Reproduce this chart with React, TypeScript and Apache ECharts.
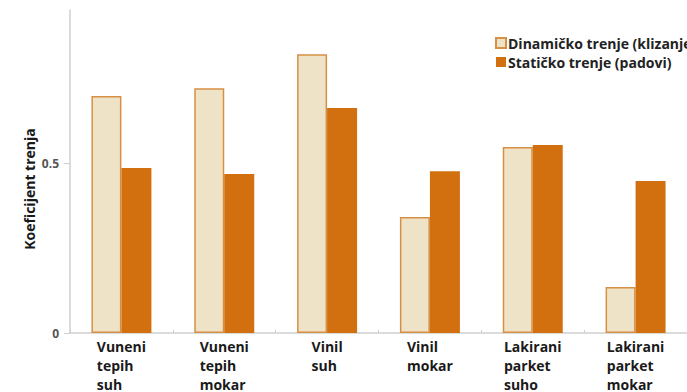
import React, { useEffect, useRef } from "react";
import * as echarts from "echarts";

const categories = [
  "Vuneni\ntepih\nsuh",
  "Vuneni\ntepih\nmokar",
  "Vinil\nsuh",
  "Vinil\nmokar",
  "Lakirani\nparket\nsuho",
  "Lakirani\nparket\nmokar",
];
const dynamicValues = [0.697, 0.72, 0.82, 0.341, 0.547, 0.135];
const staticValues = [0.485, 0.468, 0.662, 0.476, 0.553, 0.447];
const yTicks = [0, 0.5];
const seriesNames = ["Dinamičko trenje (klizanje)", "Statičko trenje (padovi)"];
const yAxisTitle = "Koeficijent trenja";

const FONT = "'Open Sans', 'Noto Sans', sans-serif";

export default function App() {
  const ref = useRef<HTMLDivElement>(null);
  useEffect(() => {
    if (!ref.current) return;
    const chart = echarts.init(ref.current, undefined, { renderer: "svg" });
    chart.setOption({
      animation: false,
      backgroundColor: "#ffffff",
      grid: { left: 70, right: -13, top: 10, bottom: 59, containLabel: false },
      legend: {
        orient: "vertical",
        left: 490,
        top: 30,
        itemWidth: 10,
        itemHeight: 10,
        itemGap: 3,
        icon: "rect",
        textStyle: {
          fontFamily: FONT,
          fontWeight: "bold",
          fontSize: 14,
          lineHeight: 16,
          color: "#222",
          padding: [0, 0, 0, -3],
        },
        data: seriesNames,
      },
      xAxis: {
        type: "category",
        data: categories,
        axisLine: { lineStyle: { color: "#cfcfcf", width: 1.5 } },
        axisTick: { show: true, inside: true, length: 3, lineStyle: { color: "#cfcfcf" } },
        axisLabel: {
          interval: 0,
          margin: 4,
          formatter: (v: string) =>
            v
              .split("\n")
              .map((l) => `{a|${l}}`)
              .join("\n"),
          rich: {
            a: {
              fontFamily: FONT,
              fontWeight: "bold",
              fontSize: 14,
              color: "#1a1a1a",
              lineHeight: 19,
              align: "left",
            },
          },
        },
      },
      yAxis: {
        type: "value",
        min: 0,
        max: 0.95,
        interval: 0.5,
        splitLine: { show: false },
        axisLine: { show: true, lineStyle: { color: "#cfcfcf", width: 1.5 } },
        axisTick: { show: true, length: 6, lineStyle: { color: "#cfcfcf" }, customValues: yTicks },
        axisLabel: {
          customValues: yTicks,
          margin: 11,
          fontFamily: FONT,
          fontWeight: "bold",
          fontSize: 12,
          color: "#555",
          formatter: (v: number) => (v === 0 ? "0" : String(v)),
        },
      },
      graphic: [
        {
          type: "text",
          x: 29,
          y: 189,
          rotation: Math.PI / 2,
          style: {
            text: yAxisTitle,
            fontFamily: FONT,
            fontWeight: "bold",
            fontSize: 14,
            fill: "#1a1a1a",
            align: "center",
            verticalAlign: "middle",
          },
        },
      ],
      series: [
        {
          name: seriesNames[0],
          type: "bar",
          data: dynamicValues,
          barWidth: 30,
          barGap: "0%",
          itemStyle: { color: "#efe3c7", borderColor: "#d69046", borderWidth: 1.5 },
        },
        {
          name: seriesNames[1],
          type: "bar",
          data: staticValues,
          barWidth: 30,
          itemStyle: { color: "#d27010" },
        },
      ],
    });
    return () => chart.dispose();
  }, []);
  return <div ref={ref} style={{ width: 687, height: 392, position: "absolute", left: 0, top: 0 }} />;
}
